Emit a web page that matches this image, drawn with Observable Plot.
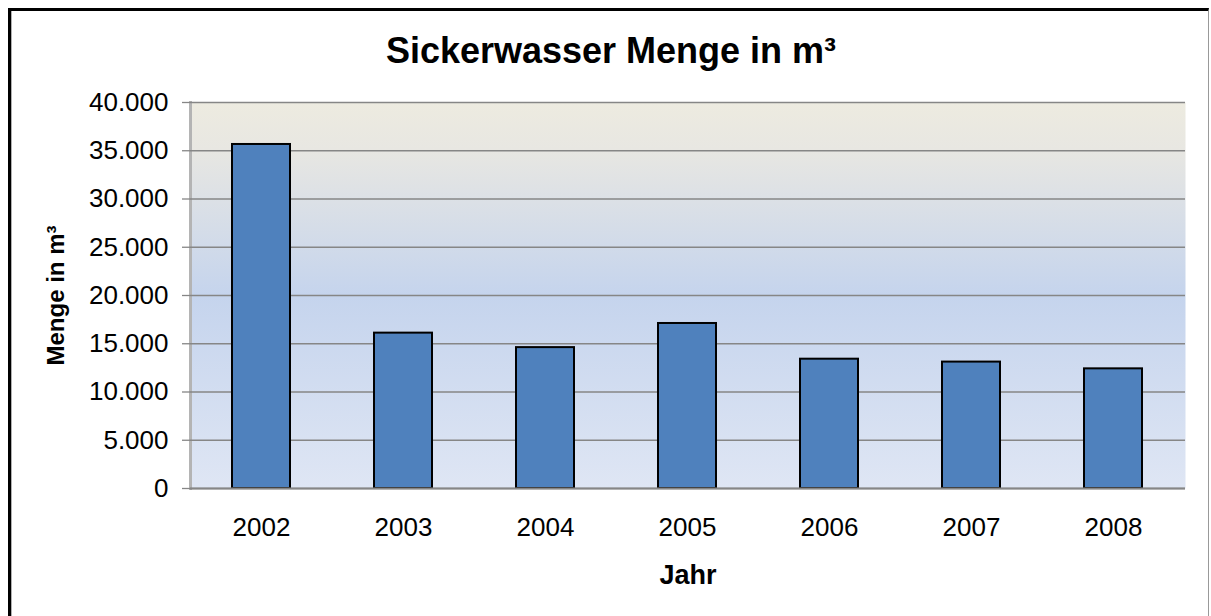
<!DOCTYPE html>
<html><head><meta charset="utf-8">
<script src="https://cdn.jsdelivr.net/npm/d3@7"></script>
<script src="https://cdn.jsdelivr.net/npm/@observablehq/plot@0.6"></script>
<style>
body{margin:0;background:#fff;font-family:"Liberation Sans",Arial,sans-serif;}
#wrap{position:relative;width:1211px;height:616px;overflow:hidden;}
#border{position:absolute;left:8px;top:8px;width:1197px;height:640px;border-top:3px solid #000;border-left:3px solid #000;border-right:1px solid #999;box-shadow:inset 1px 0 0 #b0b0b0;pointer-events:none;}
#title{position:absolute;left:0;width:1222px;top:33px;line-height:36px;text-align:center;font-weight:bold;font-size:36px;color:#000;}
#chart{position:absolute;left:0;top:0;}
</style></head>
<body>
<div id="wrap">
  <div id="chart"></div>
  <div id="title">Sickerwasser Menge in m³</div>
  <div id="border"></div>
</div>
<script>
const years = ["2002","2003","2004","2005","2006","2007","2008"];
const values = [35650, 16100, 14600, 17100, 13400, 13100, 12400];
const yTicks = [0, 5000, 10000, 15000, 20000, 25000, 30000, 35000, 40000];
const xLabel = "Jahr";
const yLabel = "Menge in m³";

const data = years.map((year, i) => ({year, value: values[i]}));
const fmt = d3.formatLocale({decimal: ",", thousands: ".", grouping: [3], currency: ["", "€"]}).format(",d");

const plot = Plot.plot({
  width: 1211, height: 616,
  marginTop: 102, marginBottom: 128, marginLeft: 190, marginRight: 26,
  style: {fontFamily: '"Liberation Sans", Arial, sans-serif', fontSize: "26px", color: "#000", background: "transparent"},
  x: {domain: years, paddingInner: 0.59, paddingOuter: 0.295, label: null, axis: null},
  y: {domain: [0, 40000], label: null, axis: null},
  marks: [
    Plot.frame({fill: "url(#bgGrad)", stroke: null}),
    Plot.frame({anchor: "left", stroke: "#b4b4b4", strokeWidth: 3}),
    Plot.gridY(yTicks, {stroke: "#868686", strokeOpacity: 1, strokeWidth: 1.3}),
    Plot.barY(data, {x: "year", y: "value", fill: "#4F81BD", stroke: "#000", strokeWidth: 2}),
    Plot.ruleY([0], {stroke: "#868686", strokeWidth: 2}),
    Plot.axisY(yTicks, {tickSize: 8, tickPadding: 14, tickFormat: fmt, stroke: "#868686", strokeWidth: 1.3, label: null, fontSize: 26}),
    Plot.axisX({tickSize: 0, tickPadding: 29, label: null, fontSize: 26}),
    Plot.text([xLabel], {text: d => d, frameAnchor: "bottom", dy: 95, fontWeight: "bold", fontSize: 27}),
    Plot.text([yLabel], {text: d => d, frameAnchor: "left", textAnchor: "middle", dx: -134, rotate: -90, fontWeight: "bold", fontSize: 24})
  ]
});

const defs = d3.select(plot).insert("defs", ":first-child");
const grad = defs.append("linearGradient").attr("id", "bgGrad").attr("x1", 0).attr("y1", 0).attr("x2", 0).attr("y2", 1);
grad.append("stop").attr("offset", "0%").attr("stop-color", "#EDEBE0");
grad.append("stop").attr("offset", "12%").attr("stop-color", "#E8E7E2");
grad.append("stop").attr("offset", "50%").attr("stop-color", "#C5D4ED");
grad.append("stop").attr("offset", "100%").attr("stop-color", "#DFE6F4");

document.getElementById("chart").appendChild(plot);
</script>
</body></html>
